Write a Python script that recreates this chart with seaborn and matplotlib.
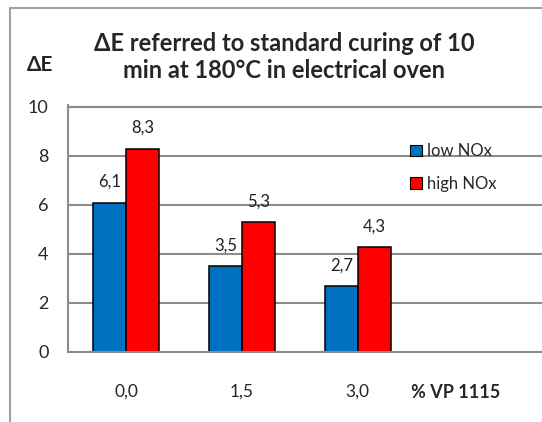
import matplotlib
matplotlib.use("Agg")
import matplotlib.pyplot as plt
import seaborn as sns
import pandas as pd
from matplotlib.lines import Line2D
from matplotlib.patches import Patch

categories = ["0,0", "1,5", "3,0"]
series_names = ["low NOx", "high NOx"]
low_nox = [6.1, 3.5, 2.7]
high_nox = [8.3, 5.3, 4.3]
yticks = [0, 2, 4, 6, 8, 10]
colors = ["#0070C0", "#FF0000"]

df = pd.DataFrame({
    "cat": categories * 2,
    "series": [series_names[0]] * 3 + [series_names[1]] * 3,
    "value": low_nox + high_nox,
})

sns.set_theme(style="white")
plt.rcParams["font.family"] = ["Lato", "DejaVu Sans"]

W, H = 542, 422
fig = plt.figure(figsize=(W / 100, H / 100), dpi=100)
ax = fig.add_axes([68 / W, (H - 352) / H, (W - 68) / W, 247 / H])

sns.barplot(data=df, x="cat", y="value", hue="series", order=categories,
            hue_order=series_names, palette=colors, width=0.57,
            edgecolor="black", linewidth=1.1, saturation=1, ax=ax, legend=False)

for cont in ax.containers:
    labels = [f"{b.get_height():.1f}".replace(".", ",") for b in cont]
    ax.bar_label(cont, labels=labels, padding=9, fontsize=12, color="#222222")

ax.set_ylim(0, 10.08)
ax.set_xlim(-0.5, 3.59)
ax.set_yticks(yticks)
ax.set_yticklabels([str(t) for t in yticks], fontsize=13)
ax.tick_params(axis="y", length=0, pad=14)
ax.tick_params(axis="x", length=0, pad=23, labelsize=12.5)
ax.set_xlabel("")
ax.set_ylabel("")
ax.yaxis.grid(True, color="#8c8c8c", linewidth=1.5)
ax.set_axisbelow(True)
ax.axhline(yticks[-1], color="#8c8c8c", linewidth=1.5, clip_on=False, zorder=3)
ax.spines["right"].set_visible(False)
ax.spines["top"].set_visible(False)
for s in ["left", "bottom"]:
    ax.spines[s].set_color("#8c8c8c")
    ax.spines[s].set_linewidth(1.5)

handles = [Patch(facecolor=c, edgecolor="black", linewidth=0.8) for c in colors]
ax.legend(handles, series_names, frameon=False, loc="upper left",
          bbox_to_anchor=(0.69, 0.905), fontsize=12, handlelength=0.7,
          handleheight=0.7, handletextpad=0.3, labelspacing=1.0)

fig.text(284 / W, 1 - 57 / H, "ΔE referred to standard curing of 10\nmin at 180°C in electrical oven",
         ha="center", va="center", fontsize=17, fontweight="bold", linespacing=1.25)
fig.text(40 / W, 1 - 65 / H, "ΔE", ha="center", va="center", fontsize=15, fontweight="bold")
fig.text(456 / W, 1 - 393 / H, "% VP 1115", ha="center", va="center", fontsize=13, fontweight="bold")

fig.add_artist(Line2D([9.5 / W, 9.5 / W], [0, 1 - 7.5 / H], transform=fig.transFigure,
                      color="#a0a0a0", linewidth=1.5))
fig.add_artist(Line2D([9.5 / W, 1], [1 - 7.5 / H, 1 - 7.5 / H], transform=fig.transFigure,
                      color="#a0a0a0", linewidth=1.5))

fig.savefig("out.png", dpi=100)
